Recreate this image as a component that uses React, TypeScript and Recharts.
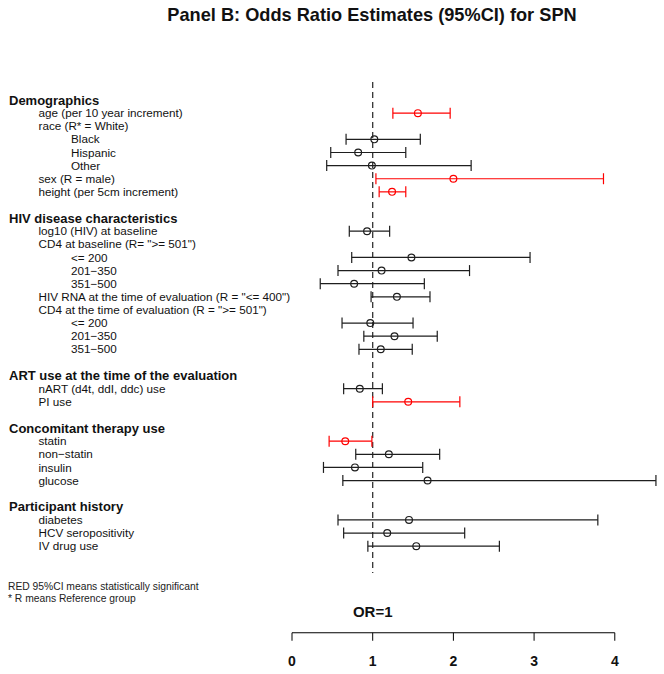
// Forest plot — odds ratio estimates (95% CI) for SPN
import {
  ScatterChart, Scatter, XAxis, YAxis, ErrorBar,
  ReferenceLine, ReferenceDot, Label,
} from "recharts";

const rowLabels = [
  "Demographics",
  "age (per 10 year increment)",
  "race (R* = White)",
  "Black",
  "Hispanic",
  "Other",
  "sex (R = male)",
  "height (per 5cm increment)",
  "",
  "HIV disease characteristics",
  "log10 (HIV) at baseline",
  'CD4 at baseline (R= ">= 501")',
  "<= 200",
  "201\u2212350",
  "351\u2212500",
  'HIV RNA at the time of evaluation (R = "<= 400")',
  'CD4 at the time of evaluation (R = ">= 501")',
  "<= 200",
  "201\u2212350",
  "351\u2212500",
  "",
  "ART use at the time of the evaluation",
  "nART (d4t, ddI, ddc) use",
  "PI use",
  "",
  "Concomitant therapy use",
  "statin",
  "non\u2212statin",
  "insulin",
  "glucose",
  "",
  "Participant history",
  "diabetes",
  "HCV seropositivity",
  "IV drug use",
];

// 0 = section header, 1 = variable, 2 = level of a variable, -1 = blank row
const rowLevels = [
  0, 1, 1, 2, 2, 2, 1, 1, -1,
  0, 1, 1, 2, 2, 2, 1, 1, 2, 2, 2, -1,
  0, 1, 1, -1,
  0, 1, 1, 1, 1, -1,
  0, 1, 1, 1,
];

const oddsRatio = [
  null, 1.56, null, 1.02, 0.82, 0.99, 2.0, 1.24, null,
  null, 0.93, null, 1.48, 1.11, 0.77, 1.3, null, 0.97, 1.27, 1.1, null,
  null, 0.84, 1.44, null,
  null, 0.66, 1.2, 0.78, 1.68, null,
  null, 1.45, 1.18, 1.54,
];

const lowerCI = [
  null, 1.25, null, 0.67, 0.48, 0.43, 1.04, 1.08, null,
  null, 0.71, null, 0.74, 0.57, 0.35, 0.98, null, 0.62, 0.89, 0.83, null,
  null, 0.64, 1.0, null,
  null, 0.46, 0.79, 0.39, 0.63, null,
  null, 0.57, 0.64, 0.94,
];

const upperCI = [
  null, 1.96, null, 1.59, 1.41, 2.22, 3.86, 1.41, null,
  null, 1.21, null, 2.95, 2.2, 1.64, 1.71, null, 1.5, 1.8, 1.49, null,
  null, 1.12, 2.08, null,
  null, 0.99, 1.83, 1.62, 4.51, null,
  null, 3.79, 2.14, 2.57,
];

const significant = [
  false, true, false, false, false, false, true, true, false,
  false, false, false, false, false, false, false, false, false, false, false, false,
  false, false, true, false,
  false, true, false, false, false, false,
  false, false, false, false,
];

const xTicks = [0, 1, 2, 3, 4];

const FONT = "'Liberation Sans', Arial, Helvetica, sans-serif";
const RED = "#ff0000";
const DARK = "#1e1e1e";
const LABEL_X = [9, 38.5, 71];

const points = oddsRatio
  .map((or, i) =>
    or == null
      ? null
      : { row: i, or, err: [or - (lowerCI[i] as number), (upperCI[i] as number) - or], sig: significant[i] }
  )
  .filter(Boolean) as { row: number; or: number; err: number[]; sig: boolean }[];

const sigPoints = points.filter(p => p.sig);
const plainPoints = points.filter(p => !p.sig);
const labelTicks = rowLevels.map((l, i) => (l >= 0 ? i : -1)).filter(i => i >= 0);

const RowLabel = ({ y, payload }: any) => {
  const i = payload.value as number;
  const lvl = rowLevels[i];
  const header = lvl === 0;
  return (
    <text
      x={LABEL_X[lvl]}
      y={y}
      dy="0.35em"
      textAnchor="start"
      fontFamily={FONT}
      fontSize={header ? 13 : 11.7}
      fontWeight={header ? "bold" : "normal"}
      fill="#111"
    >
      {rowLabels[i]}
    </text>
  );
};

const AxisTick = ({ x, y, payload }: any) => (
  <text x={x} y={y + 23} textAnchor="middle" fontFamily={FONT} fontSize={14} fontWeight="bold" fill="#111">
    {payload.value}
  </text>
);

const dot = (color: string) => (props: any) => (
  <circle cx={props.cx} cy={props.cy} r={3.4} fill="none" stroke={color} strokeWidth={1.2} />
);

export default function App() {
  return (
    <div style={{ position: "absolute", left: 0, top: 0, width: 664, height: 674, background: "#fff" }}>
      <ScatterChart width={664} height={674} margin={{ top: 73.76, right: 0.8, bottom: 0, left: 0 }}>
        <XAxis
          type="number"
          dataKey="or"
          domain={[0, 4.6]}
          ticks={xTicks}
          interval={0}
          axisLine={false}
          tickLine={{ stroke: "#000" }}
          tickSize={8}
          tickMargin={2}
          height={41.24}
          tick={<AxisTick />}
          allowDataOverflow
        />
        <YAxis
          type="number"
          dataKey="row"
          domain={[-2, 40.6]}
          reversed
          ticks={labelTicks}
          interval={0}
          width={292}
          axisLine={false}
          tickLine={false}
          tick={<RowLabel />}
          allowDataOverflow
        />
        <ReferenceLine
          segment={[{ x: 1, y: -1.37 }, { x: 1, y: 36.05 }]}
          stroke="#333"
          strokeWidth={1.3}
          strokeDasharray="6 4"
        />
        <ReferenceLine
          segment={[{ x: 0, y: 40.6 }, { x: 4, y: 40.6 }]}
          stroke="#000"
          strokeWidth={1}
          ifOverflow="visible"
        />
        <ReferenceDot x={1} y={39} r={0} fill="none" stroke="none">
          <Label value="OR=1" position="center" fontFamily={FONT} fontSize={15} fontWeight="bold" fill="#111" />
        </ReferenceDot>
        <Scatter data={plainPoints} shape={dot(DARK)} isAnimationActive={false}>
          <ErrorBar dataKey="err" direction="x" width={5.5} stroke={DARK} strokeWidth={1.2} isAnimationActive={false} />
        </Scatter>
        <Scatter data={sigPoints} shape={dot(RED)} isAnimationActive={false}>
          <ErrorBar dataKey="err" direction="x" width={5.5} stroke={RED} strokeWidth={1.2} isAnimationActive={false} />
        </Scatter>
      </ScatterChart>
      <svg width={664} height={674} style={{ position: "absolute", left: 0, top: 0, pointerEvents: "none" }}>
        <text x={372} y={20.7} textAnchor="middle" fontFamily={FONT} fontSize={18.2} fontWeight="bold" fill="#111">
          Panel B: Odds Ratio Estimates (95%CI) for SPN
        </text>
        <text x={8} y={589.5} fontFamily={FONT} fontSize={10.3} fill="#222">
          RED 95%CI means statistically significant
        </text>
        <text x={8} y={602} fontFamily={FONT} fontSize={10.3} fill="#222">
          * R means Reference group
        </text>
      </svg>
    </div>
  );
}
